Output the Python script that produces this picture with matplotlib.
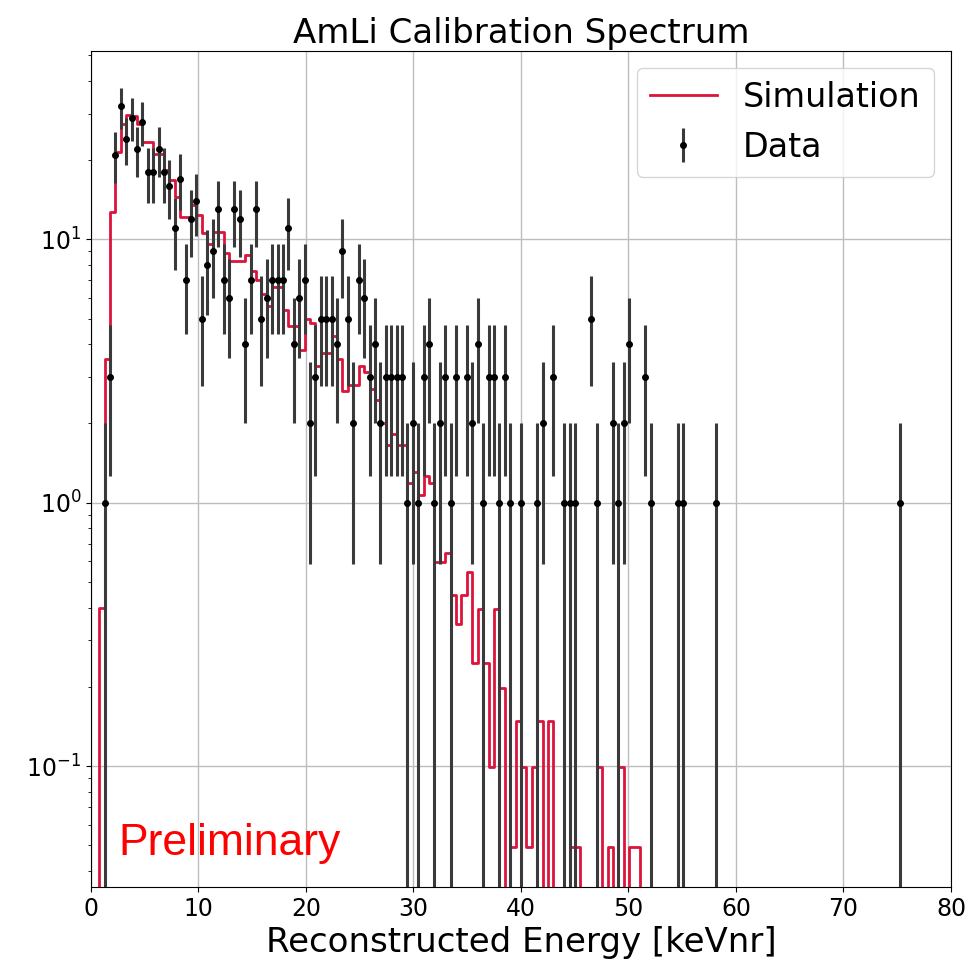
import numpy as np
import matplotlib
matplotlib.use("Agg")
import matplotlib.pyplot as plt

# 159 bins of equal width between 0 and 80 keVnr
bin_edges = np.linspace(0, 80, 160)
bin_centers = 0.5 * (bin_edges[:-1] + bin_edges[1:])

# Data counts per bin (index 0..158)
data_counts = np.array([
    0, 0, 1, 3, 21, 32, 24, 29, 22, 28,
    18, 18, 22, 18, 16, 11, 17, 7, 12, 14,
    5, 8, 9, 13, 7, 6, 13, 12, 4, 7,
    13, 5, 6, 7, 7, 7, 11, 4, 6, 7,
    2, 3, 5, 5, 5, 4, 9, 5, 2, 7,
    6, 3, 4, 2, 3, 3, 3, 3, 1, 2,
    1, 3, 4, 1, 2, 3, 1, 3, 0, 3,
    2, 4, 1, 3, 3, 1, 3, 1, 0, 1,
    0, 0, 1, 2, 0, 3, 0, 1, 1, 1,
    0, 0, 5, 1, 0, 0, 2, 1, 2, 4,
    0, 0, 3, 1, 0, 0, 0, 0, 1, 1,
    0, 0, 0, 0, 0, 1, 0, 0, 0, 0,
    0, 0, 0, 0, 0, 0, 0, 0, 0, 0,
    0, 0, 0, 0, 0, 0, 0, 0, 0, 0,
    0, 0, 0, 0, 0, 0, 0, 0, 0, 1,
    0, 0, 0, 0, 0, 0, 0, 0, 0,
])

# Simulation (scaled) between consecutive bin centres (158 values)
sim_values = np.array([
    0.0, 0.40, 3.5, 12.7, 21.5, 27.5, 29.7, 29.3, 27.5, 23.5,
    23.5, 21.1, 21.1, 18.3, 16.8, 14.5, 12.2, 12.2, 13.5, 12.4,
    10.6, 9.6, 10.7, 10.7, 8.9, 8.3, 8.3, 8.3, 8.7, 7.6,
    7.0, 6.2, 5.6, 6.6, 6.6, 5.4, 4.7, 4.7, 3.8, 5.0,
    4.8, 3.3, 3.7, 3.7, 4.3, 3.5, 2.65, 2.8, 2.8, 3.3,
    3.15, 2.7, 2.45, 2.0, 1.65, 1.82, 1.65, 1.65, 1.19, 1.31,
    1.07, 1.26, 1.19, 0.594, 0.594, 0.643, 0.445, 0.346, 0.445, 0.544,
    0.247, 0.396, 0.247, 0.099, 0.396, 0.198, 0.0, 0.0495, 0.148, 0.099,
    0.0495, 0.099, 0.148, 0.0, 0.148, 0.0, 0.0, 0.0, 0.0495, 0.0495,
    0.0, 0.0, 0.0, 0.099, 0.0, 0.0495, 0.0, 0.099, 0.0, 0.0495,
    0.0495, 0.0, 0.0, 0.0, 0.0, 0.0, 0.0, 0.0, 0.0, 0.0,
    0.0, 0.0, 0.0, 0.0, 0.0, 0.0, 0.0, 0.0, 0.0, 0.0,
    0.0, 0.0, 0.0, 0.0, 0.0, 0.0, 0.0, 0.0, 0.0, 0.0,
    0.0, 0.0, 0.0, 0.0, 0.0, 0.0, 0.0, 0.0, 0.0, 0.0,
    0.0, 0.0, 0.0, 0.0, 0.0, 0.0, 0.0, 0.0, 0.0, 0.0,
    0.0, 0.0, 0.0, 0.0, 0.0, 0.0, 0.0, 0.0,
])

x_ticks = [0, 10, 20, 30, 40, 50, 60, 70, 80]

fig = plt.figure(figsize=(9.68, 9.61), dpi=100)
ax = fig.add_axes([0.094, 0.077, 0.8884, 0.8699])

ax.step(bin_centers, np.append(sim_values, sim_values[-1]), where='post',
        color='crimson', lw=2, label='Simulation')

mask = data_counts > 0
ax.errorbar(bin_centers[mask], data_counts[mask], yerr=np.sqrt(data_counts[mask]),
            fmt='o', color='k', ms=4, ecolor='#3a3a3a', elinewidth=2.2,
            label='Data')

ax.set_yscale('log')
ax.set_xlim(0, 80)
ax.set_ylim(0.03475, 51.9)
ax.set_xticks(x_ticks)
ax.grid(True, which='major', color='#bdbdbd', lw=1)
ax.tick_params(labelsize=17)

ax.set_title('AmLi Calibration Spectrum', fontsize=24.5)
ax.set_xlabel('Reconstructed Energy [keVnr]', fontsize=24.5)

ax.text(0.0314, 0.038, 'Preliminary', transform=ax.transAxes, color='red',
        fontsize=32, family='Liberation Sans', va='baseline', ha='left')

ax.legend(loc='upper right', fontsize=24)

fig.savefig('out.png', dpi=100)
